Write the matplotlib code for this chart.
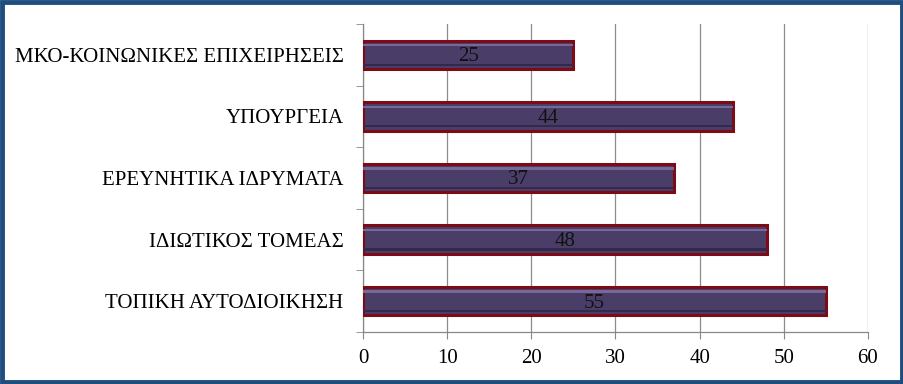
import matplotlib.pyplot as plt
import numpy as np
from matplotlib.patches import Rectangle

# Data (top to bottom as shown in the chart)
categories = [
    "ΜΚΟ-ΚΟΙΝΩΝΙΚΕΣ ΕΠΙΧΕΙΡΗΣΕΙΣ",
    "ΥΠΟΥΡΓΕΙΑ",
    "ΕΡΕΥΝΗΤΙΚΑ ΙΔΡΥΜΑΤΑ",
    "ΙΔΙΩΤΙΚΟΣ ΤΟΜΕΑΣ",
    "ΤΟΠΙΚΗ ΑΥΤΟΔΙΟΙΚΗΣΗ",
]
values = [25, 44, 37, 48, 55]
xticks = [0, 10, 20, 30, 40, 50, 60]

plt.rcParams["font.family"] = ["Liberation Serif", "DejaVu Serif"]

fig = plt.figure(figsize=(9.04, 3.84), dpi=100)
ax = fig.add_axes([0.4015, 0.1354, 0.5586, 0.8021])

y = np.arange(len(categories))[::-1]
h = 0.46

# main bar with dark red rim
ax.barh(y, values, height=h, color="#4a3e68", edgecolor="#7d0b16",
        linewidth=2.2, zorder=3)
# bevel: thin lighter band on top, darker band at bottom
ax.barh(y + h * 0.34, values, height=h * 0.08, color="#76699a",
        edgecolor="none", zorder=4)
ax.barh(y - h * 0.35, values, height=h * 0.08, color="#33294d",
        edgecolor="none", zorder=4)

for yi, v in zip(y, values):
    ax.text(v / 2, yi - 0.03, str(v), ha="center", va="center",
            fontsize=15, color="#111111", zorder=5)

ax.set_xlim(0, 60)
ax.set_ylim(-0.5, len(categories) - 0.5)
ax.set_xticks(xticks)
ax.set_yticks(y)
ax.set_yticklabels(categories)
ax.set_yticks(np.arange(-0.5, len(categories)), minor=True)

ax.tick_params(axis="y", which="major", length=0, pad=14, labelsize=15)
ax.tick_params(axis="y", which="minor", length=5, color="#888888")
ax.tick_params(axis="x", length=5, color="#888888", pad=7, labelsize=15)

ax.grid(axis="x", color="#8c8c8c", linewidth=0.9, zorder=0)
ax.set_axisbelow(True)
for side in ["top", "right"]:
    ax.spines[side].set_visible(False)
for side in ["left", "bottom"]:
    ax.spines[side].set_color("#888888")
    ax.spines[side].set_linewidth(0.9)

# dark blue frame around the whole figure
fig.patches.append(Rectangle((0.002, 0.004), 0.996, 0.992,
                             transform=fig.transFigure, fill=False,
                             edgecolor="#1f4d7e", linewidth=3.5))

fig.savefig("out.png", dpi=100)
